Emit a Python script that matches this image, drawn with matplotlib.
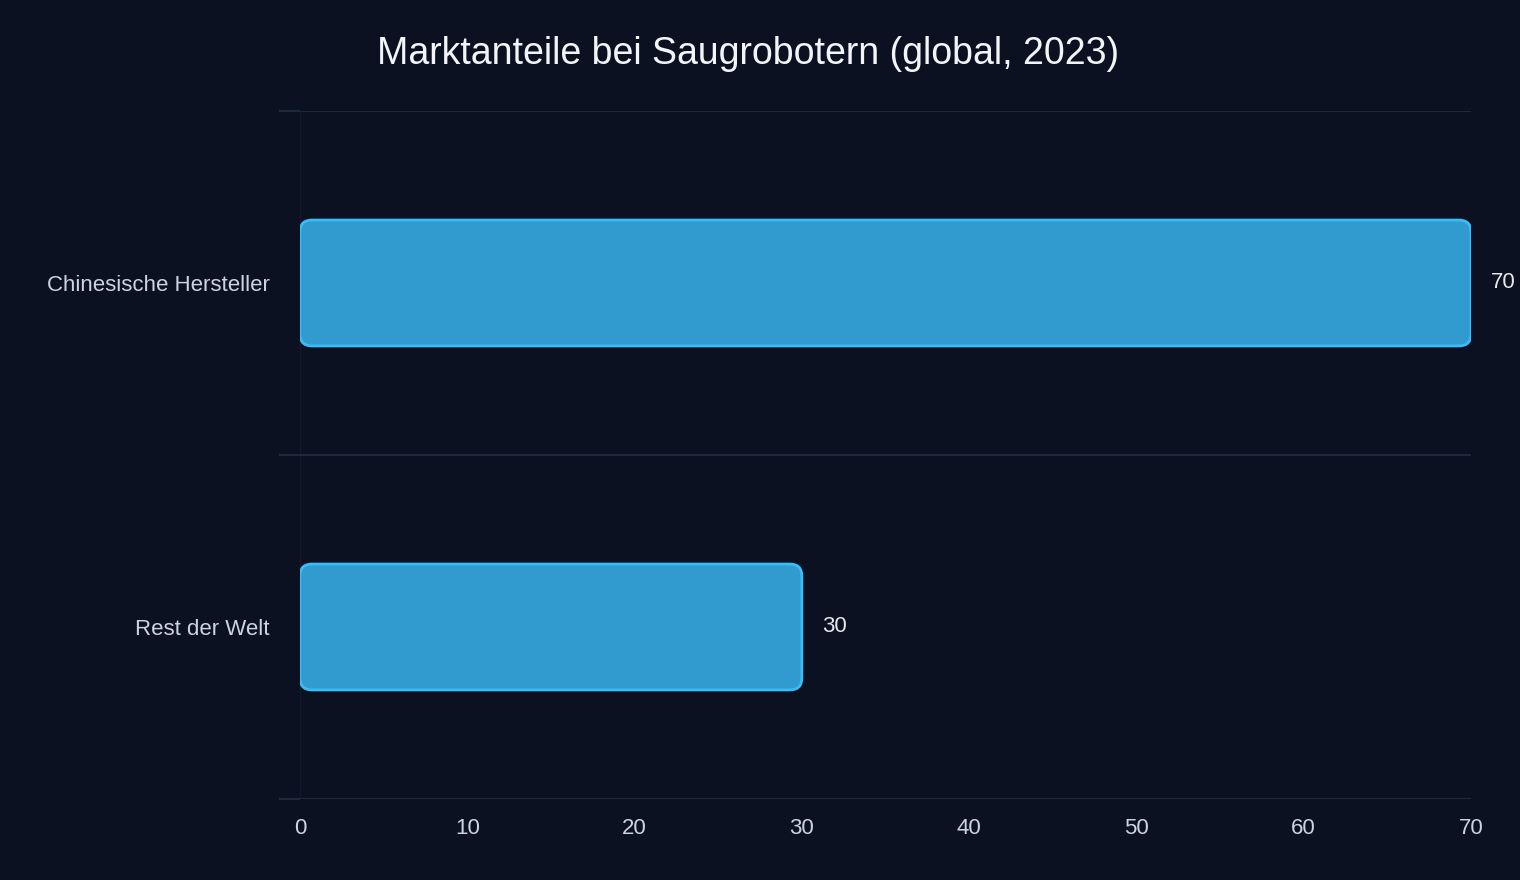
import matplotlib.pyplot as plt
from matplotlib.patches import FancyBboxPatch

categories = ['Chinesische Hersteller', 'Rest der Welt']
shares = [70, 30]

bg = '#0b1120'
plt.rcParams['font.family'] = ['Liberation Sans', 'DejaVu Sans']

fig = plt.figure(figsize=(15.2, 8.8), dpi=100, facecolor=bg)
ax = fig.add_axes([300 / 1520, 1 - 799 / 880, 1171 / 1520, 688 / 880], facecolor=bg)

ax.set_xlim(0, 70)
ax.set_ylim(1.5, -0.5)

bar_h = 0.366
x_per_px = 70 / 1171
y_per_px = 2 / 688
for i, v in enumerate(shares):
    p = FancyBboxPatch((0, i - bar_h / 2), v, bar_h,
                       boxstyle='round,pad=0,rounding_size=%f' % (12 * x_per_px),
                       mutation_aspect=y_per_px / x_per_px,
                       facecolor='#319bcf', edgecolor='#38bdf8', linewidth=2)
    ax.add_patch(p)
    ax.text(v + 20 * x_per_px, i, str(v), va='center', ha='left',
            color='#e5e7eb', fontsize=16)

ax.set_yticks(range(len(categories)))
ax.set_yticklabels(categories, fontsize=16, color='#cbd5e1')
ax.set_yticks([-0.5, 0.5, 1.5], minor=True)
ax.tick_params(axis='y', which='major', length=0, pad=22)
ax.tick_params(axis='y', which='minor', length=15, color='#1e293b', width=1.5)
ax.set_xticks(range(0, 71, 10))
ax.tick_params(axis='x', length=0, labelsize=16, labelcolor='#cbd5e1', pad=14)
ax.grid(True, axis='y', which='minor', color='#1e293b', linewidth=1.5)
for s in ax.spines.values():
    s.set_visible(False)
ax.axvline(0, color='#131b2c', linewidth=1, zorder=0)

fig.text(748 / 1520, 1 - 54 / 880, 'Marktanteile bei Saugrobotern (global, 2023)',
         ha='center', va='center', fontsize=27, color='#f1f5f9')

fig.savefig('out.png', dpi=100, facecolor=bg)
